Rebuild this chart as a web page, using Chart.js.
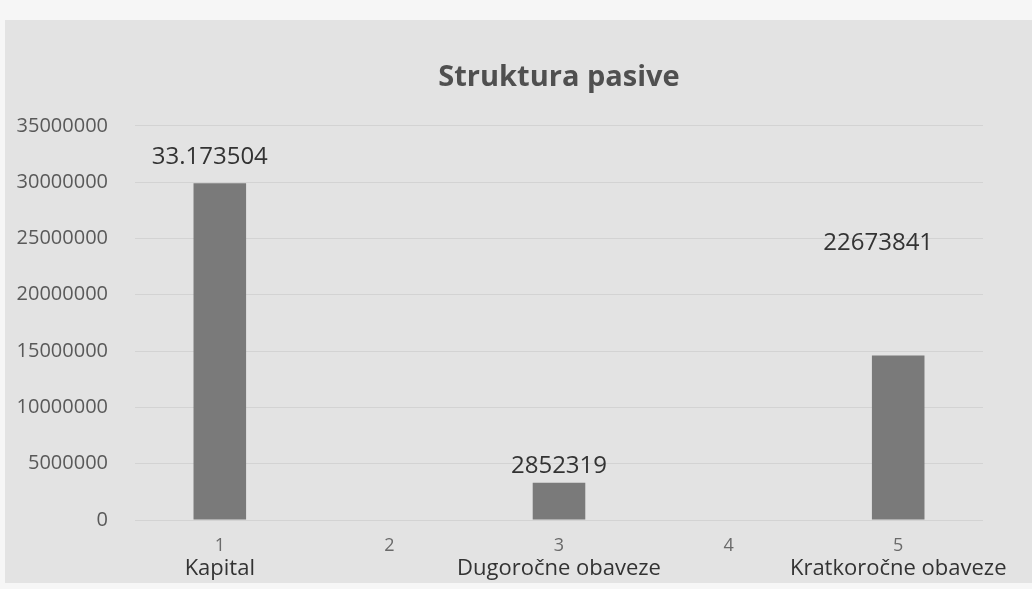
<!DOCTYPE html>
<html>
<head>
<meta charset="utf-8">
<script src="https://cdn.jsdelivr.net/npm/chart.js@4/dist/chart.umd.min.js"></script>
<style>
    html, body { margin: 0; padding: 0; background: #f6f6f6; width: 1032px; height: 589px; overflow: hidden; }
    #wrap { position: absolute; left: 5px; top: 20px; width: 1027px; height: 563px; background: #e3e3e3; }
</style>
</head>
<body>
<div id="wrap"><canvas id="chart"></canvas></div>
<script>
// Data
const tickNumbers = ['1', '2', '3', '4', '5'];
const categoryNames = ['Kapital', '', 'Dugoročne obaveze', '', 'Kratkoročne obaveze'];
const barValues = [29900000, null, 3300000, null, 14600000];
const labelTexts = ['33.173504', '', '2852319', '', '22673841'];
const yTicks = [0, 5000000, 10000000, 15000000, 20000000, 25000000, 30000000, 35000000];

// --- value labels above the bars (text placed by hand in the original) ---
const barLabels = {
    id: 'barLabels',
    afterDatasetsDraw(chart, args, opts) {
        const ctx = chart.ctx;
        const meta = chart.getDatasetMeta(0);
        ctx.save();
        ctx.font = opts.font;
        ctx.fillStyle = opts.color;
        ctx.textAlign = 'center';
        ctx.textBaseline = 'middle';
        meta.data.forEach((bar, i) => {
            if (!labelTexts[i]) return;
            ctx.fillText(labelTexts[i], bar.x - opts.shift[i], bar.y - opts.lift[i]);
        });
        ctx.restore();
    }
};

new Chart(document.getElementById('chart'), {
    type: 'bar',
    data: {
        labels: tickNumbers,
        datasets: [{
            data: barValues,
            backgroundColor: '#7a7a7a',
            borderWidth: 0,
            categoryPercentage: 1,
            barPercentage: 0.31
        }]
    },
    options: {
        responsive: true,
        maintainAspectRatio: false,
        animation: false,
        layout: { padding: { left: 10, right: 49, top: 20, bottom: 3 } },
        plugins: {
            legend: { display: false },
            tooltip: { enabled: false },
            title: {
                display: true,
                fullSize: false,
                text: 'Struktura pasive',
                color: '#505050',
                font: { family: 'Open Sans', size: 29, weight: 'bold' },
                padding: { top: 20, bottom: 31 }
            },
            barLabels: {
                font: '24px "Open Sans"',
                color: '#333333',
                lift: [26, 0, 17, 0, 112],
                shift: [10, 0, 0, 0, 20]
            }
        },
        scales: {
            x: {
                grid: { display: false },
                border: { display: false },
                afterFit: axis => { axis.height = 38; },
                ticks: {
                    color: '#6a6a6a',
                    font: { family: 'Open Sans', size: 18, lineHeight: 1 },
                    padding: 9,
                    maxRotation: 0,
                    autoSkip: false
                }
            },
            x2: {
                type: 'category',
                position: 'bottom',
                labels: categoryNames,
                grid: { display: false },
                border: { display: false },
                afterFit: axis => { axis.height = 22; },
                ticks: {
                    color: '#333333',
                    font: { family: 'Open Sans', size: 22, lineHeight: 1 },
                    padding: -8,
                    maxRotation: 0,
                    minRotation: 0,
                    autoSkip: false
                }
            },
            y: {
                min: 0,
                max: 35000000,
                afterBuildTicks: axis => { axis.ticks = yTicks.map(v => ({ value: v })); },
                afterFit: axis => { axis.width = 120; },
                grid: { color: '#d3d3d3', drawTicks: false },
                border: { display: false },
                ticks: {
                    color: '#595959',
                    font: { family: 'Open Sans', size: 20 },
                    padding: 27,
                    callback: v => String(v)
                }
            }
        }
    },
    plugins: [barLabels]
});
</script>
</body>
</html>
